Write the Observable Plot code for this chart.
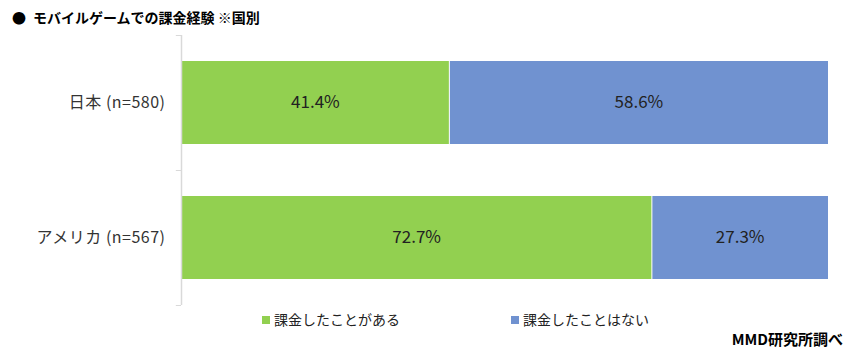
<!DOCTYPE html>
<html><head><meta charset="utf-8">
<script src="https://cdn.jsdelivr.net/npm/d3@7"></script>
<script src="https://cdn.jsdelivr.net/npm/@observablehq/plot@0.6"></script>
<style>
body{margin:0;background:#fff;font-family:"Noto Sans CJK JP","Noto Sans",sans-serif;}
#wrap{position:relative;width:848px;height:355px;overflow:hidden;}
#title{position:absolute;left:12px;top:7px;font-size:14px;font-weight:bold;color:#000;white-space:nowrap;z-index:2;}
#title .dot{margin-right:7px;}
#chart{position:absolute;left:0;top:0;z-index:1;}
.leg{position:absolute;top:309px;font-size:14px;color:#222;white-space:nowrap;z-index:2;}
.sw{display:inline-block;width:8px;height:8px;margin-right:4px;vertical-align:1px;}
#src{position:absolute;right:5px;top:328px;font-size:15px;font-weight:bold;color:#000;z-index:2;}
</style></head>
<body><div id="wrap">
<div id="title"><span class="dot">●</span>モバイルゲームでの課金経験 ※国別</div>
<div id="chart"></div>
<div class="leg" style="left:262px"><span class="sw" style="background:#92D050"></span>課金したことがある</div>
<div class="leg" style="left:511px"><span class="sw" style="background:#7092D0"></span>課金したことはない</div>
<div id="src">MMD研究所調べ</div>
</div>
<script>
const countries = ["日本 (n=580)", "アメリカ (n=567)"];
const series = ["課金したことがある", "課金したことはない"];
const paid = [41.4, 72.7];
const notPaid = [58.6, 27.3];
const colors = ["#92D050", "#7092D0"];

const data = [];
countries.forEach((c, i) => {
  data.push({country: c, answer: series[0], x1: 0, x2: paid[i], value: paid[i]});
  data.push({country: c, answer: series[1], x1: paid[i], x2: paid[i] + notPaid[i], value: notPaid[i]});
});

const H = 355, mT = 35, mB = 50;
const bandStep = (H - mT - mB) / countries.length;

const chart = Plot.plot({
  width: 848, height: H,
  marginLeft: 181, marginRight: 20, marginTop: mT, marginBottom: mB,
  style: {fontFamily: '"Noto Sans CJK JP","Noto Sans",sans-serif', background: "transparent"},
  x: {domain: [0, 100], axis: null},
  y: {domain: countries, paddingInner: 0.385, paddingOuter: 0.1925, label: null},
  color: {domain: series, range: colors},
  marks: [
    Plot.barX(data.filter(d => d.answer === series[0]), {x1: "x1", x2: "x2", y: "country", fill: "answer"}),
    Plot.barX(data.filter(d => d.answer === series[1]), {x1: "x1", x2: "x2", y: "country", fill: "answer", insetLeft: 1}),
    Plot.text(data, {x: d => (d.x1 + d.x2) / 2, y: "country", text: d => d.value.toFixed(1) + "%", fill: "#222", fontSize: 17, style: "letter-spacing:0.8px"}),
    Plot.ruleX([0], {stroke: "#d9d9d9", strokeWidth: 1.5}),
    Plot.ruleY(countries, {y: d => d, x1: -0.8, x2: 0, dy: -bandStep / 2, stroke: "#d9d9d9"}),
    Plot.ruleY(countries.slice(-1), {y: d => d, x1: -0.8, x2: 0, dy: bandStep / 2, stroke: "#d9d9d9"}),
    Plot.axisY({tickSize: 0, tickPadding: 16, fontSize: 16, color: "#333", label: null})
  ]
});
chart.querySelectorAll("g[aria-label='y-axis tick label'] text").forEach(t => t.style.letterSpacing = "0.5px");
document.getElementById("chart").appendChild(chart);
</script>
</body></html>
